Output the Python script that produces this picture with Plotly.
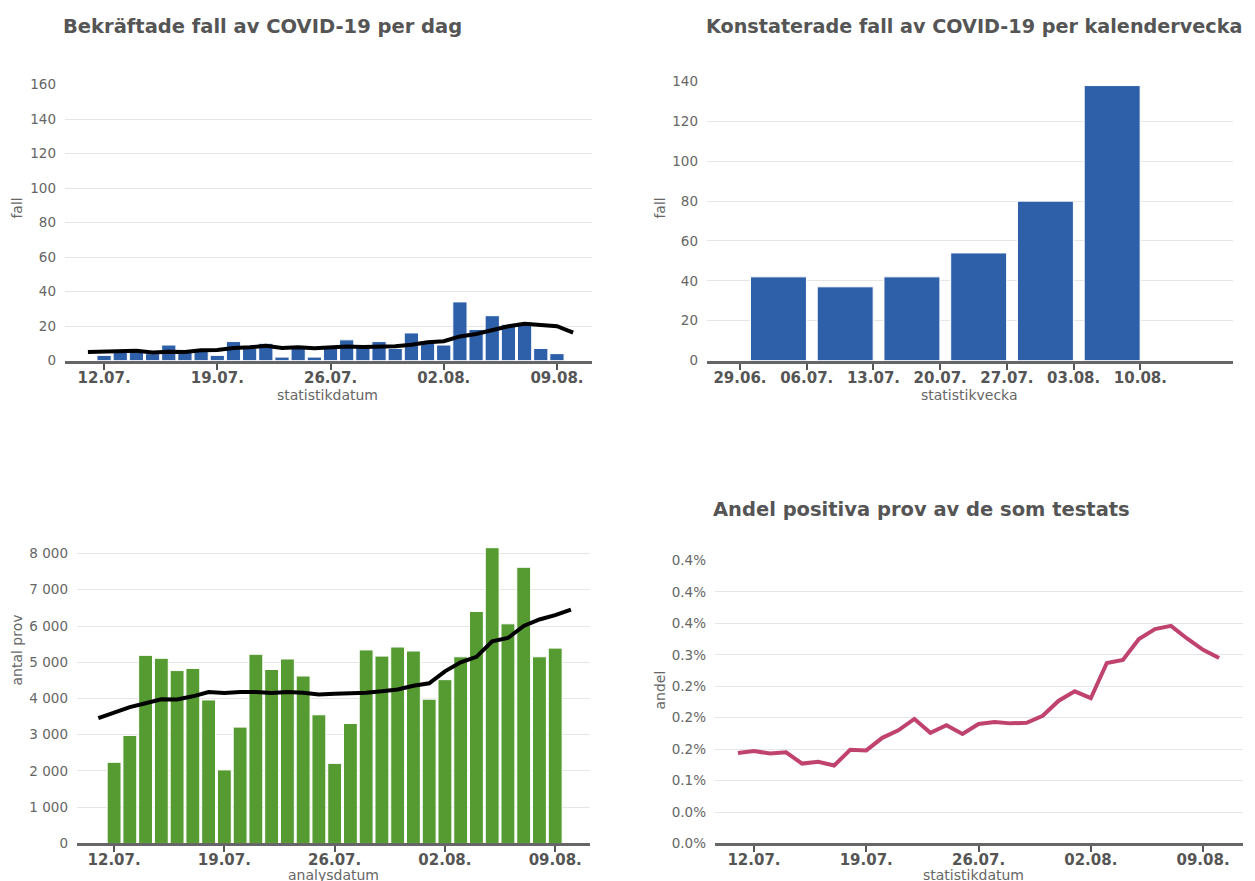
import plotly.graph_objects as go
import pandas as pd

# ---------------- data ----------------
daily_dates = pd.date_range("2020-07-12", "2020-08-09", freq="D")
avg_dates = pd.date_range("2020-07-11", "2020-08-10", freq="D")

daily_cases = [3, 5, 5, 4, 9, 5, 6, 3, 11, 7, 10, 2, 7, 2, 7, 12, 8, 11, 7, 16,
               11, 9, 34, 18, 26, 21, 22, 7, 4]
daily_cases_avg = [4.9, 5.1, 5.3, 5.7, 4.7, 5.1, 4.9, 5.9, 6.1, 7.3, 7.7, 8.5, 7.3,
                   7.7, 7.1, 7.7, 8.1, 7.9, 8.1, 8.3, 9.1, 10.6, 11.2, 14.0, 15.4,
                   17.7, 19.9, 21.3, 20.7, 19.9, 16.2]

week_starts = ["2020-06-29", "2020-07-06", "2020-07-13", "2020-07-20",
               "2020-07-27", "2020-08-03"]
weekly_cases = [42, 37, 42, 54, 80, 138]
week_ticks = ["2020-06-29", "2020-07-06", "2020-07-13", "2020-07-20",
              "2020-07-27", "2020-08-03", "2020-08-10"]

tests = [2240, 2980, 5190, 5110, 4770, 4830, 3960, 2030, 3210, 5220, 4800, 5090,
         4620, 3550, 2210, 3310, 5340, 5170, 5420, 5310, 3980, 4520, 5150, 6400,
         8160, 6060, 7620, 5150, 5390]
tests_avg = [3460, 3610, 3760, 3870, 3980, 3970, 4060, 4180, 4150, 4180, 4180,
             4150, 4180, 4160, 4110, 4130, 4140, 4160, 4200, 4250, 4350, 4420,
             4750, 5000, 5150, 5580, 5670, 6000, 6180, 6300, 6450]

positive_share = [0.144, 0.147, 0.143, 0.145, 0.127, 0.130, 0.124, 0.149, 0.148,
                  0.168, 0.180, 0.198, 0.176, 0.188, 0.174, 0.190, 0.193, 0.191,
                  0.192, 0.203, 0.227, 0.242, 0.231, 0.287, 0.292, 0.325, 0.341,
                  0.346, 0.326, 0.308, 0.295]
share_tickvals = [0, 0.05, 0.10, 0.15, 0.20, 0.25, 0.30, 0.35, 0.40, 0.45]
share_ticktext = ["0.0%", "0.0%", "0.1%", "0.2%", "0.2%", "0.2%", "0.3%", "0.4%",
                  "0.4%", "0.4%"]

# ---------------- styling ----------------
FW, FH = 1239, 881
OX = 8                  # horizontal page offset of the figure
OY, SY = 15.4, 0.982    # observed vertical placement of the figure in the photo
FONT = "DejaVu Sans"
BLUE = "#2e5fa9"
GREEN = "#559b31"
PINK = "#c0426e"
TITLE_C = "#555555"
LABEL_C = "#666666"
GRID_C = "#e6e6e6"
DAY = 86400000


def px(x):
    return (x - OX) / FW


def py(y):
    return 1 - ((y - OY) / SY) / FH


def xd(a, b):
    return [px(a), px(b)]


def yd(top, bottom):
    return [py(bottom), py(top)]


fig = go.Figure()

fig.add_trace(go.Bar(x=daily_dates, y=daily_cases, marker=dict(color=BLUE, line=dict(color="white", width=1)),
                     xaxis="x", yaxis="y", showlegend=False))
fig.add_trace(go.Scatter(x=avg_dates, y=daily_cases_avg, mode="lines", line=dict(color="black", width=4),
                         xaxis="x", yaxis="y", showlegend=False))

fig.add_trace(go.Bar(x=week_starts, y=weekly_cases, offset=1.1 * DAY, width=5.87 * DAY,
                     marker=dict(color=BLUE, line=dict(color="white", width=1)),
                     xaxis="x2", yaxis="y2", showlegend=False))

fig.add_trace(go.Bar(x=daily_dates, y=tests, marker=dict(color=GREEN, line=dict(color="white", width=1)),
                     xaxis="x3", yaxis="y3", showlegend=False))
fig.add_trace(go.Scatter(x=avg_dates, y=tests_avg, mode="lines", line=dict(color="black", width=4),
                         xaxis="x3", yaxis="y3", showlegend=False))

fig.add_trace(go.Scatter(x=avg_dates, y=positive_share, mode="lines", line=dict(color=PINK, width=4),
                         xaxis="x4", yaxis="y4", showlegend=False))

xcommon = dict(type="date", showgrid=False, zeroline=False, showline=True, linecolor="#666666",
               linewidth=3, ticks="outside", ticklen=6, tickwidth=2, tickcolor="#555555",
               tickfont=dict(family=FONT, size=15, color=TITLE_C, weight="bold"),
               tickformat="%d.%m.", ticklabelstandoff=-5)
ycommon = dict(showgrid=True, gridcolor=GRID_C, gridwidth=1, zeroline=False, showline=False,
               ticks="", tickfont=dict(family=FONT, size=13.5, color=LABEL_C), ticklabelstandoff=8)

fig.update_layout(
    width=FW, height=FH, margin=dict(l=0, r=0, t=0, b=0),
    paper_bgcolor="white", plot_bgcolor="white", bargap=0.12, separators=". ",
    font=dict(family=FONT),
    xaxis=dict(xcommon, domain=xd(65, 592), anchor="y",
               range=["2020-07-09 14:00", "2020-08-11 04:00"], tick0="2020-07-12", dtick=7 * DAY),
    yaxis=dict(ycommon, domain=yd(84, 360), anchor="x", range=[0, 160], dtick=20),
    xaxis2=dict(xcommon, domain=xd(707, 1233), anchor="y2",
                range=["2020-06-25 13:00", "2020-08-19 17:00"], tickvals=week_ticks),
    yaxis2=dict(ycommon, domain=yd(81, 360), anchor="x2", range=[0, 140], dtick=20),
    xaxis3=dict(xcommon, domain=xd(77, 590), anchor="y3",
                range=["2020-07-09 15:30", "2020-08-11 05:00"], tick0="2020-07-12", dtick=7 * DAY),
    yaxis3=dict(ycommon, domain=yd(545.75, 843), anchor="x3", range=[0, 8200],
                tickvals=[0, 1000, 2000, 3000, 4000, 5000, 6000, 7000, 8000], tickformat=",d"),
    xaxis4=dict(xcommon, domain=xd(715, 1243), anchor="y4",
                range=["2020-07-09 13:40", "2020-08-11 11:45"], tick0="2020-07-12", dtick=7 * DAY),
    yaxis4=dict(ycommon, domain=yd(560, 843), anchor="x4", range=[0, 0.45],
                tickvals=share_tickvals, ticktext=share_ticktext),
)


def ann(text, x, y, size, color, bold=False, anchor="left", angle=0):
    fig.add_annotation(text=text, x=px(x), y=py(y), xref="paper", yref="paper",
                       xanchor=anchor, yanchor="middle", showarrow=False, textangle=angle,
                       borderpad=0,
                       font=dict(family=FONT, size=size, color=color, weight="bold" if bold else "normal"))


ann("Bekräftade fall av COVID-19 per dag", 62, 26, 19.5, TITLE_C, bold=True)
ann("Konstaterade fall av COVID-19 per kalendervecka", 705, 26, 19.2, TITLE_C, bold=True)
ann("Andel positiva prov av de som testats", 712, 509, 19.5, TITLE_C, bold=True)

ann("statistikdatum", 327, 394, 14, LABEL_C, anchor="center")
ann("statistikvecka", 969, 394, 14, LABEL_C, anchor="center")
ann("analysdatum", 333, 875, 14, LABEL_C, anchor="center")
ann("statistikdatum", 973, 875, 14, LABEL_C, anchor="center")

ann("fall", 17, 208, 14, LABEL_C, anchor="center", angle=-90)
ann("fall", 660, 208, 14, LABEL_C, anchor="center", angle=-90)
ann("antal prov", 17, 650, 14, LABEL_C, anchor="center", angle=-90)
ann("andel", 660, 690, 14, LABEL_C, anchor="center", angle=-90)

fig.write_html("out.html")
